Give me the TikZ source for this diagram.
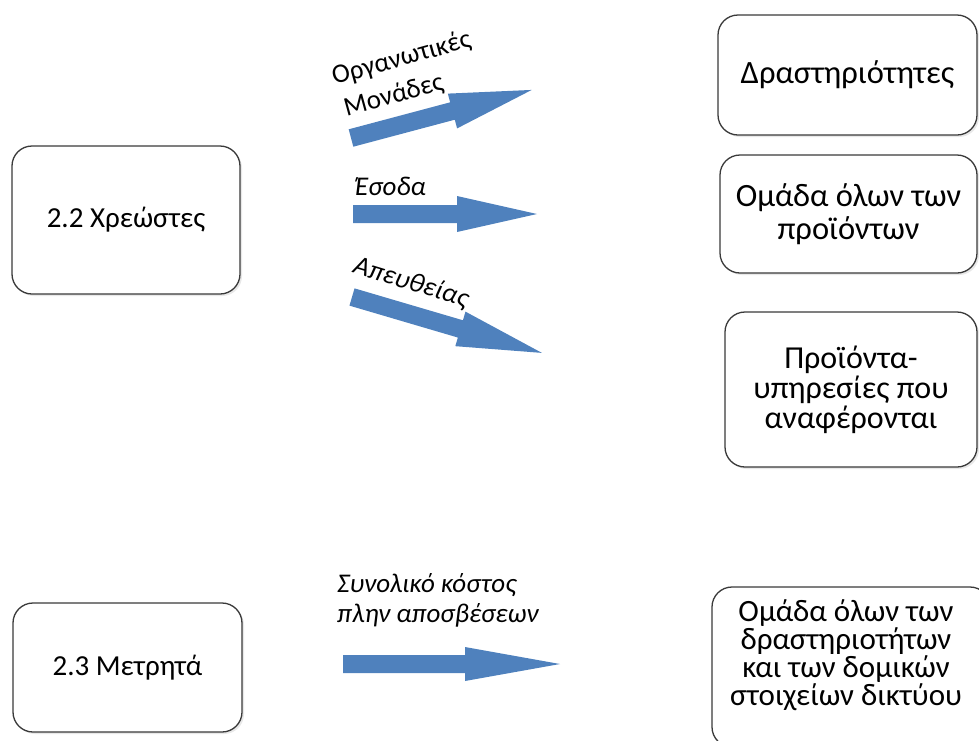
\documentclass[tikz,border=0pt]{standalone}
\usepackage{fontspec}
\setmainfont{Carlito}
\usetikzlibrary{shadows}
\definecolor{arrowblue}{HTML}{4F81BD}
\definecolor{boxline}{HTML}{3A3A3A}
\begin{document}
\begin{tikzpicture}[x=1pt,y=-1pt,
  box/.style={draw=boxline, fill=white, line width=1.3pt, rounded corners=20pt, align=center, inner sep=0pt,
    drop shadow={opacity=0.18, shadow xshift=2pt, shadow yshift=-2pt}},
  fleft/.style={font=\fontsize{29}{34}\selectfont},
  fbig/.style={font=\fontsize{32.5}{33}\selectfont},
  fmid/.style={font=\fontsize{32}{30}\selectfont},
  fsmall/.style={font=\fontsize{31}{28}\selectfont},
  lbl/.style={font=\fontsize{27}{34}\selectfont, align=left, inner sep=0pt},
  ilbl/.style={lbl, font=\itshape\fontsize{27}{30}\selectfont},
  pics/barrow/.style n args={3}{code={
    \fill[arrowblue] (0,-9) -- ({#1-#2},-9) -- ({#1-#2},-#3) -- (#1,0) -- ({#1-#2},#3) -- ({#1-#2},9) -- (0,9) -- cycle;}}]
\useasboundingbox (0,0) rectangle (979,740);
\clip (0,0) rectangle (979,740);
% left boxes
\node[box, fleft, minimum width=228pt, minimum height=148pt] (deb) at (126,220) {2.2 Χρεώστες};
\node[box, fleft, minimum width=229pt, minimum height=129pt] (cash) at (127.5,667.5) {2.3 Μετρητά};
% right boxes
\node[box, fbig, minimum width=259pt, minimum height=120pt] (act) at (847.5,75) {Δραστηριότητες};
\node[box, fbig, minimum width=257pt, minimum height=118pt] (prod) at (848.5,214) {Ομάδα όλων των\\προϊόντων};
\node[box, fmid, minimum width=252pt, minimum height=155pt] (serv) at (851,389.5) {Προϊόντα-\\υπηρεσίες που\\αναφέρονται};
\node[box, minimum width=278pt, minimum height=160pt] (grp) at (851,667) {};
\node[fsmall, align=center, inner sep=0pt] (grpt) at (846,655) {Ομάδα όλων των\\δραστηριοτήτων\\και των δομικών\\στοιχείων δικτύου};
% block arrows
\pic[rotate=14.9] (a1) at (351,138) {barrow={187}{82}{18}};
\pic (a2) at (353,214) {barrow={184}{80}{18}};
\pic[rotate=-16.4] (a3) at (352,297) {barrow={198}{85}{18}};
\pic (a4) at (343,664) {barrow={217}{95}{17}};
% labels
\node[lbl, rotate=15.5] (l1) at (406,75) {Οργανωτικές\\\hspace*{3pt}Μονάδες};
\node[ilbl, anchor=west] (l2) at (355,186) {Έσοδα};
\node[ilbl, rotate=-17] (l3) at (411,283) {Απευθείας};
\node[ilbl, anchor=west] (l4) at (337,600) {Συνολικό κόστος\\πλην αποσβέσεων};
\end{tikzpicture}
\end{document}
